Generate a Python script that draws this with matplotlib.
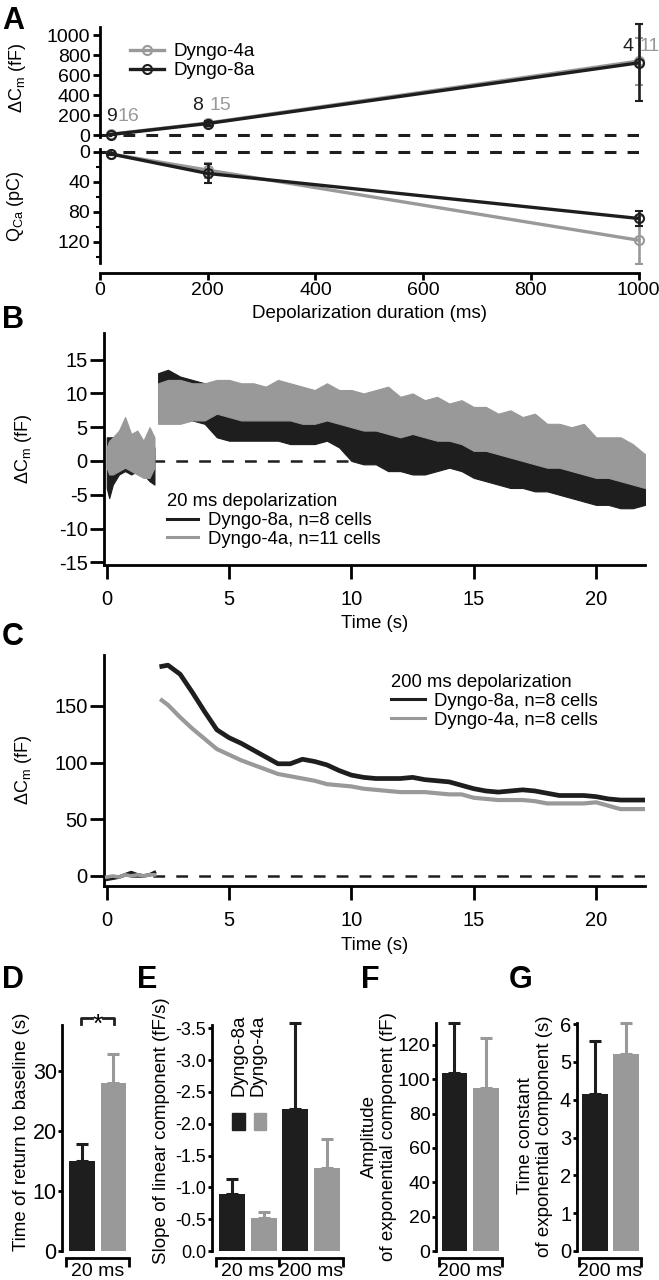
import matplotlib
matplotlib.use("Agg")
import matplotlib.pyplot as plt
from matplotlib.lines import Line2D
from matplotlib.patches import Rectangle

plt.rcParams['font.family'] = ['Liberation Sans', 'DejaVu Sans']
plt.rcParams['font.size'] = 13.3
plt.rcParams['axes.unicode_minus'] = False
plt.rcParams['lines.scale_dashes'] = False
plt.rcParams['axes.linewidth'] = 2.0
plt.rcParams['xtick.major.width'] = 2.0
plt.rcParams['ytick.major.width'] = 2.0
plt.rcParams['ytick.minor.width'] = 1.5
plt.rcParams['xtick.direction'] = 'out'
plt.rcParams['ytick.direction'] = 'out'

BLACK = '#1e1e1e'
GRAY = '#999999'

# ---------------- data ----------------
# A: mean +- SEM vs depolarization duration
durations = [20, 200, 1000]
dcm_4a = [8, 120, 740]
dcm_4a_sem = [5, 20, 235]
dcm_8a = [5, 115, 722]
dcm_8a_sem = [5, 25, 386]
qca_4a = [3, 24.5, 118]
qca_4a_sem = [1.5, 10, 32]
qca_8a = [3, 29, 89]
qca_8a_sem = [1.5, 13, 10.5]
n_8a = ['9', '8', '4']
n_4a = ['16', '15', '11']
n_x_8a = [22, 182, 980]
n_x_4a = [52, 223, 1021]
n_y = [181, 292, 886]

# B: 20 ms depolarization, noisy traces as lower / upper envelopes
b_pre_t = [0.0, 0.1, 0.25, 0.5, 0.75, 1.0, 1.25, 1.5, 1.75, 1.95]
b_pre_8a_hi = [3.5, 3.5, 3.5, 2, 2, 1.5, 2, 2.5, 2, 2]
b_pre_8a_lo = [-4, -5.5, -3.5, -2, -1.5, -2, -1.5, -2, -3, -3.5]
b_pre_4a_hi = [2, 3, 3.5, 4.5, 6.5, 4, 4.5, 3, 5, 3.5]
b_pre_4a_lo = [-1, -2, -2, -1.5, -1, -1.5, -2, -2.5, -2.5, -1]

b_t = [2.1, 2.5, 3.0, 3.5, 4.0, 4.5, 5.0, 5.5, 6.0, 6.5, 7.0, 7.5, 8.0, 8.5,
       9.0, 9.5, 10.0, 10.5, 11.0, 11.5, 12.0, 12.5, 13.0, 13.5, 14.0, 14.5,
       15.0, 15.5, 16.0, 16.5, 17.0, 17.5, 18.0, 18.5, 19.0, 19.5, 20.0, 20.5,
       21.0, 21.5, 22.0]
b_8a_hi = [13, 13.5, 12.5, 12, 11.5, 7.5, 7, 7, 7, 7, 7, 7, 6.5, 6.5, 6.5, 6.5,
           6, 5.5, 5.5, 6, 4, 4, 3.5, 3.5, 3, 3, 2, 1.5, 1, 1, 0.5, 0, 0, -0.5,
           -1, -1.5, -2, -2, -2.5, -3, -3.5]
b_8a_lo = [6, 6, 6, 6, 5.5, 3.5, 3, 3, 3, 3, 3, 2.5, 2.5, 2.5, 3, 2, 0, -0.5,
           -0.5, -1.5, -1.5, -2, -2, -1.5, -1, -1.5, -2.5, -3, -3.5, -4, -4,
           -4.5, -4.5, -5, -5.5, -6, -6.5, -6.5, -7, -7, -6.5]
b_4a_hi = [11.5, 12, 12, 11.5, 11.5, 12, 12, 11.5, 11.5, 11, 12, 11.5, 11, 10.5,
           11.5, 10.5, 10.5, 10, 10.5, 11, 9.5, 10, 9, 9.5, 8.5, 9, 8, 8, 7, 7.5,
           6.5, 7, 5.5, 5.5, 5, 5.5, 3.5, 3.5, 3.5, 2.5, 1]
b_4a_lo = [5.5, 5.5, 5.5, 6, 6, 7, 6.5, 6, 6, 6, 6, 6, 5.5, 5.5, 6, 5.5, 5, 4.5,
           4.5, 4, 3.5, 4, 3.5, 3, 3, 2.5, 1.5, 1.5, 1, 0.5, 0, -0.5, -1, -1,
           -1.5, -2, -2.5, -2.5, -3, -3.5, -4]

# C: 200 ms depolarization
c_pre_t = [0.0, 0.25, 0.5, 0.75, 1.0, 1.25, 1.5, 1.75, 1.95]
c_pre_8a = [-3, -2, -1, 1, 3, 1, 0, 1, 3]
c_pre_4a = [-1, 0, -1, 1, 0, 1, 0, 1, 1]
c_t = [2.25, 2.5, 3.0, 3.5, 4.0, 4.5, 5.0, 5.5, 6.0, 6.5, 7.0, 7.5, 8.0, 8.5,
       9.0, 9.5, 10.0, 10.5, 11.0, 11.5, 12.0, 12.5, 13.0, 13.5, 14.0, 14.5,
       15.0, 15.5, 16.0, 16.5, 17.0, 17.5, 18.0, 18.5, 19.0, 19.5, 20.0, 20.5,
       21.0, 21.5, 22.0]
c_8a = [185, 186, 178, 162, 145, 129, 122, 117, 111, 105, 99, 99, 103, 101, 98,
        93, 89, 87, 86, 86, 86, 87, 85, 84, 83, 80, 77, 75, 74, 75, 76, 75, 73,
        71, 71, 71, 70, 68, 67, 67, 67]
c_4a = [155, 151, 140, 130, 121, 112, 107, 102, 98, 94, 90, 88, 86, 84, 81, 80,
        79, 77, 76, 75, 74, 74, 74, 73, 72, 72, 69, 68, 67, 67, 67, 66, 64, 64,
        64, 64, 65, 62, 59, 59, 59]

# D-G: bar summaries (Dyngo-8a, Dyngo-4a per group), mean and SEM
d_groups = ['20 ms']
d_vals = [15.0, 28.0]
d_sem = [2.9, 4.8]
e_groups = ['20 ms', '200 ms']
e_vals = [-0.89, -0.52, -2.23, -1.30]
e_sem = [0.24, 0.09, 1.36, 0.46]
f_groups = ['200 ms']
f_vals = [103.5, 94.7]
f_sem = [29.5, 29.2]
g_groups = ['200 ms']
g_vals = [4.14, 5.21]
g_sem = [1.41, 0.83]

# ---------------- figure ----------------
W, H = 659, 1280
fig = plt.figure(figsize=(W / 100, H / 100), dpi=100)


def box(left, top, right, bottom):
    # pixel rectangle -> figure fraction
    return [left / W, 1 - bottom / H, (right - left) / W, (bottom - top) / H]


def ftext(x, y, s, **kw):
    fig.text(x / W, 1 - y / H, s, **kw)


def clean(ax):
    for side in ['top', 'right']:
        ax.spines[side].set_visible(False)


DASH = (8.5, 8)

# ---- A top: delta Cm ----
axA1 = fig.add_axes(box(100, 26.7, 638.5, 137))
clean(axA1)
axA1.spines['bottom'].set_visible(False)
axA1.set_xlim(0, 1000)
axA1.set_ylim(-20, 1084)
axA1.axhline(0, color=BLACK, lw=2.2, dashes=DASH, zorder=1)
for y, e, c, z in [(dcm_4a, dcm_4a_sem, GRAY, 3), (dcm_8a, dcm_8a_sem, BLACK, 4)]:
    eb = axA1.errorbar(durations, y, yerr=e, color=c, lw=2.4, marker='o', ms=6.5,
                       mfc='none', mec=c, mew=1.5, elinewidth=1.9, capsize=3,
                       capthick=1.9, zorder=z)
    for a in eb.get_children():
        a.set_clip_on(False)
for i in range(3):
    axA1.text(n_x_8a[i], n_y[i], n_8a[i], color=BLACK, ha='center', va='center',
              fontsize=14)
    axA1.text(n_x_4a[i], n_y[i], n_4a[i], color=GRAY, ha='center', va='center',
              fontsize=14, clip_on=False)
axA1.set_xticks([])
axA1.set_yticks([0, 200, 400, 600, 800, 1000])
axA1.tick_params(axis='y', length=5, pad=2, labelsize=14)
handles = [Line2D([], [], color=GRAY, lw=2.4, marker='o', ms=6.5, mfc='none', mew=1.5),
           Line2D([], [], color=BLACK, lw=2.4, marker='o', ms=6.5, mfc='none', mew=1.5)]
axA1.legend(handles, ['Dyngo-4a', 'Dyngo-8a'], loc='upper left',
            bbox_to_anchor=(0.0557, 0.85), frameon=False, borderpad=0,
            borderaxespad=0, handlelength=1.8, handletextpad=0.5, labelspacing=0.1,
            fontsize=13.5)

# ---- A bottom: QCa ----
axA2 = fig.add_axes(box(100, 149, 638.5, 263))
clean(axA2)
axA2.spines['bottom'].set_position(('outward', 7))
axA2.set_xlim(0, 1000)
axA2.set_ylim(148.4, -3.6)
axA2.axhline(0, color=BLACK, lw=2.2, dashes=DASH, zorder=1)
for y, e, c, z in [(qca_4a, qca_4a_sem, GRAY, 3), (qca_8a, qca_8a_sem, BLACK, 4)]:
    eb = axA2.errorbar(durations, y, yerr=e, color=c, lw=2.4, marker='o', ms=6.5,
                       mfc='none', mec=c, mew=1.5, elinewidth=1.9, capsize=3,
                       capthick=1.9, zorder=z)
    for a in eb.get_children():
        a.set_clip_on(False)
axA2.set_xticks([0, 200, 400, 600, 800, 1000])
axA2.set_yticks([0, 40, 80, 120])
axA2.set_yticks([20, 60, 100, 140], minor=True)
axA2.tick_params(axis='both', length=5, pad=2, labelsize=14)
axA2.tick_params(axis='y', which='minor', length=3)

ftext(17, 78, 'ΔC$_\\mathregular{m}$ (fF)', rotation=90, ha='center', va='center', fontsize=13)
ftext(16, 206, 'Q$_\\mathregular{Ca}$ (pC)', rotation=90, ha='center', va='center', fontsize=13)
ftext(369, 314, 'Depolarization duration (ms)', ha='center', va='center', fontsize=13.5)

# ---- B: 20 ms traces ----
axB = fig.add_axes(box(104.3, 333.3, 645, 565))
clean(axB)
axB.set_xlim(-0.1, 22.0)
axB.set_ylim(-15.4, 18.9)
axB.plot([0, 22], [0, 0], color=BLACK, lw=1.8, dashes=DASH, zorder=1)
axB.fill_between(b_pre_t, b_pre_8a_lo, b_pre_8a_hi, color=BLACK, lw=0.8, zorder=2)
axB.fill_between(b_pre_t, b_pre_4a_lo, b_pre_4a_hi, color=GRAY, lw=0.8, zorder=3)
axB.fill_between(b_t, b_8a_lo, b_8a_hi, color=BLACK, lw=0.8, zorder=2)
axB.fill_between(b_t, b_4a_lo, b_4a_hi, color=GRAY, lw=0.8, zorder=3)
axB.set_xticks([0, 5, 10, 15, 20])
axB.set_yticks([-15, -10, -5, 0, 5, 10, 15])
axB.tick_params(axis='both', length=10, pad=2, labelsize=14.5)
axB.tick_params(axis='x', pad=8)
hB = [Line2D([], [], color=BLACK, lw=2.2), Line2D([], [], color=GRAY, lw=2.2)]
axB.legend(hB, ['Dyngo-8a, n=8 cells', 'Dyngo-4a, n=11 cells'],
           title='20 ms depolarization', alignment='left', loc='upper left',
           bbox_to_anchor=(0.1154, 0.31), frameon=False, borderpad=0,
           borderaxespad=0, handlelength=1.7, handletextpad=0.55, labelspacing=0.1)
ftext(23, 449, 'ΔC$_\\mathregular{m}$ (fF)', rotation=90, ha='center', va='center', fontsize=13)
ftext(374.5, 623, 'Time (s)', ha='center', va='center')

# ---- C: 200 ms traces ----
axC = fig.add_axes(box(104.3, 655, 645, 885.7))
clean(axC)
axC.set_xlim(-0.1, 22.0)
axC.set_ylim(-8.6, 195)
axC.plot([0, 22], [0, 0], color=BLACK, lw=1.8, dashes=DASH, zorder=1)
axC.plot(c_pre_t, c_pre_8a, color=BLACK, lw=2.6, zorder=2)
axC.plot(c_pre_t, c_pre_4a, color=GRAY, lw=2.6, zorder=3)
axC.plot(c_t, c_8a, color=BLACK, lw=3.4, zorder=3)
axC.plot(c_t, c_4a, color=GRAY, lw=3.0, zorder=2)
axC.set_xticks([0, 5, 10, 15, 20])
axC.set_yticks([0, 50, 100, 150])
axC.tick_params(axis='both', length=10, pad=2, labelsize=14.5)
axC.tick_params(axis='x', pad=8)
axC.legend(hB, ['Dyngo-8a, n=8 cells', 'Dyngo-4a, n=8 cells'],
           title='200 ms depolarization', alignment='left', loc='upper left',
           bbox_to_anchor=(0.530, 0.918), frameon=False, borderpad=0,
           borderaxespad=0, handlelength=1.84, handletextpad=0.5, labelspacing=0.1)
ftext(23, 770, 'ΔC$_\\mathregular{m}$ (fF)', rotation=90, ha='center', va='center', fontsize=13)
ftext(374.5, 945, 'Time (s)', ha='center', va='center')


# ---- D-G: bar panels ----
def bar_panel(ax, vals, sems, groups, tick_fs):
    clean(ax)
    xs = list(range(len(vals)))
    colors = [BLACK, GRAY] * len(groups)
    for x, v, e, c in zip(xs, vals, sems, colors):
        ax.bar(x, v, width=0.82, color=c, zorder=2)
        err = [[e], [0]] if v < 0 else [[0], [e]]
        eb = ax.errorbar(x, v, yerr=err, fmt='none', ecolor=c, elinewidth=2.2,
                         capsize=4.5, capthick=2.2, zorder=3)
        for a in eb.get_children():
            a.set_clip_on(False)
    edges = [-0.5 + 2 * i for i in range(len(groups) + 1)]
    ax.spines['bottom'].set_position(('outward', 5))
    ax.spines['bottom'].set_bounds(edges[0], edges[-1])
    ax.set_xticks(edges)
    ax.set_xticklabels([])
    ax.set_xticks([0.5 + 2 * i for i in range(len(groups))], groups, minor=True)
    ax.tick_params(axis='x', which='major', length=6.5)
    ax.tick_params(axis='x', which='minor', length=0, pad=4, labelsize=14)
    ax.tick_params(axis='y', length=3, pad=1, labelsize=tick_fs)


axD = fig.add_axes(box(62.3, 1025, 129.2, 1251))
bar_panel(axD, d_vals, d_sem, d_groups, 15.5)
axD.set_xlim(-0.625, 1.5)
axD.set_ylim(0, 37.7)
axD.set_yticks([0, 10, 20, 30])
axD.plot([-0.03, -0.03, 0.33], [37.9, 38.8, 38.8], color=BLACK, lw=2, clip_on=False)
axD.plot([0.67, 1.02, 1.02], [38.8, 38.8, 37.9], color=BLACK, lw=2, clip_on=False)
axD.text(0.5, 36.6, '*', ha='center', va='baseline', fontsize=19, clip_on=False)
ftext(22, 1132, 'Time of return to baseline (s)', rotation=90, ha='center',
      va='center', fontsize=13.5)

axE = fig.add_axes(box(211.7, 1025, 343.2, 1251))
bar_panel(axE, e_vals, e_sem, e_groups, 13)
axE.set_xlim(-0.64, 3.52)
axE.set_ylim(0, -3.553)
e_ticks = [0.0, -0.5, -1.0, -1.5, -2.0, -2.5, -3.0, -3.5]
axE.set_yticks(e_ticks, [f'{t:.1f}' if t else '0.0' for t in e_ticks])
axE.text(0.23, -2.43, 'Dyngo-8a', rotation=90, ha='center', va='bottom', fontsize=13.5)
axE.text(0.83, -2.43, 'Dyngo-4a', rotation=90, ha='center', va='bottom', fontsize=13.5)
axE.add_patch(Rectangle((0.01, -2.165), 0.40, 0.265, color=BLACK))
axE.add_patch(Rectangle((0.70, -2.165), 0.37, 0.265, color=GRAY))
ftext(161, 1131, 'Slope of linear component (fF/s)', rotation=90, ha='center',
      va='center', fontsize=13.5)

axF = fig.add_axes(box(436, 1023.3, 503.3, 1251))
bar_panel(axF, f_vals, f_sem, f_groups, 14)
axF.set_xlim(-0.587, 1.55)
axF.set_ylim(0, 132.6)
axF.set_yticks([0, 20, 40, 60, 80, 100, 120])
ftext(379, 1137, 'Amplitude\nof exponential component (fF)', rotation=90,
      ha='center', va='center', multialignment='center', fontsize=13.5,
      linespacing=1.15)

axG = fig.add_axes(box(576.7, 1023, 643, 1251))
bar_panel(axG, g_vals, g_sem, g_groups, 14.5)
axG.set_xlim(-0.59, 1.55)
axG.set_ylim(0, 6.03)
axG.set_yticks([0, 1, 2, 3, 4, 5, 6])
ftext(535, 1136, 'Time constant\nof exponential component (s)', rotation=90,
      ha='center', va='center', multialignment='center', fontsize=13.5,
      linespacing=1.1)

# panel letters
for letter, x, y in [('A', 13.5, 29), ('B', 13, 328), ('C', 13, 645), ('D', 13, 988),
                     ('E', 147, 988), ('F', 370, 988), ('G', 521, 988)]:
    ftext(x, y, letter, ha='center', va='baseline', fontsize=22, fontweight='bold')

fig.savefig('out.png', dpi=100)
